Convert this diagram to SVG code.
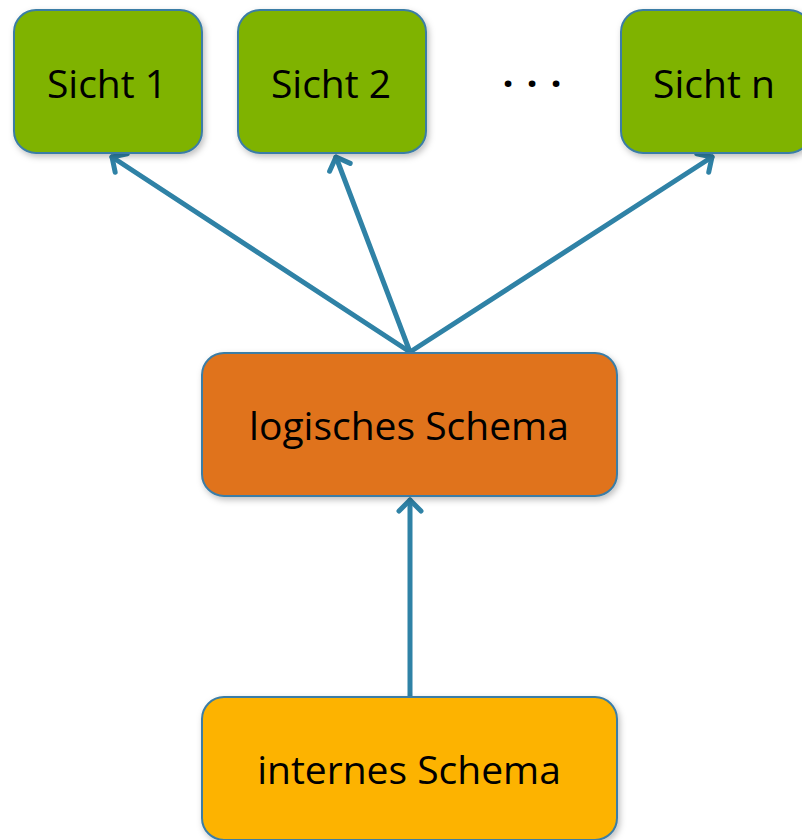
<svg xmlns="http://www.w3.org/2000/svg" width="802" height="840" viewBox="0 0 802 840">
<style>
.box{stroke:#3B7DA6;stroke-width:2}
.lbl{font-family:"Open Sans","Liberation Sans",sans-serif;font-size:39px;fill:#000;text-anchor:middle}
.edge{stroke:#2F82A6;stroke-width:5;fill:none;stroke-linecap:round;stroke-linejoin:round}
</style>
<defs>
<marker id="arr" markerWidth="10" markerHeight="10" refX="5" refY="5" orient="auto" markerUnits="userSpaceOnUse" viewBox="0 0 10 10" overflow="visible">
<path d="M-6,-6 L5,5 L-6,16" fill="none" stroke="#2F82A6" stroke-width="5" stroke-linecap="round" stroke-linejoin="round"/>
</marker>
<filter id="sh" x="-10%" y="-10%" width="125%" height="130%"><feDropShadow dx="2" dy="3" stdDeviation="3" flood-color="#000" flood-opacity="0.25"/></filter>
</defs>
<rect width="802" height="840" fill="#fff"/>
<g id="connectors">
<line class="edge" x1="410" y1="352" x2="112" y2="157" marker-end="url(#arr)"/>
<line class="edge" x1="410" y1="352" x2="336" y2="157" marker-end="url(#arr)"/>
<line class="edge" x1="410" y1="352" x2="712" y2="157" marker-end="url(#arr)"/>
<line class="edge" x1="410" y1="697" x2="410" y2="500" marker-end="url(#arr)"/>
</g>
<g id="sicht1"><rect class="box" x="14" y="10" width="188" height="143" rx="22" fill="#7FB305" filter="url(#sh)"/><text class="lbl" x="107" y="98">Sicht 1</text></g>
<g id="sicht2"><rect class="box" x="238" y="10" width="188" height="143" rx="22" fill="#7FB305" filter="url(#sh)"/><text class="lbl" x="331" y="98">Sicht 2</text></g>
<g id="dots"><text class="lbl" x="508 532 556" y="98" style="font-weight:bold">···</text></g>
<g id="sichtn"><rect class="box" x="621" y="10" width="190" height="143" rx="22" fill="#7FB305" filter="url(#sh)"/><text class="lbl" x="714" y="98">Sicht n</text></g>
<g id="logisch"><rect class="box" x="202" y="353" width="415" height="143" rx="22" fill="#E0731E" filter="url(#sh)"/><text class="lbl" x="409" y="440">logisches Schema</text></g>
<g id="intern"><rect class="box" x="202" y="697" width="415" height="143" rx="22" fill="#FDB300" filter="url(#sh)"/><text class="lbl" x="409" y="784">internes Schema</text></g>
</svg>
